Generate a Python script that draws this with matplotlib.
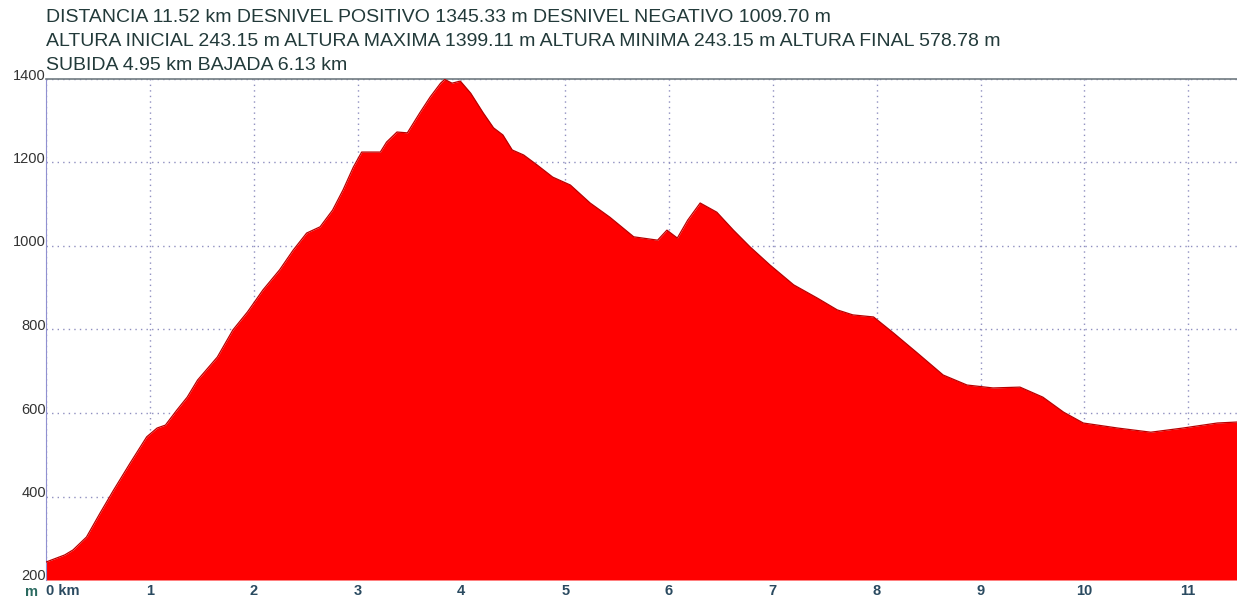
import numpy as np
import matplotlib
matplotlib.use('Agg')
import matplotlib.pyplot as plt
import matplotlib.transforms as mtransforms

plt.rcParams['font.family'] = ['Liberation Sans', 'DejaVu Sans']

# elevation profile
dist_km = [0.00, 0.18, 0.26, 0.39, 0.52, 0.65, 0.81, 0.97, 1.07, 1.15,
           1.26, 1.36, 1.46, 1.65, 1.80, 1.94, 2.09, 2.25, 2.38, 2.51,
           2.64, 2.76, 2.86, 2.96, 3.04, 3.22, 3.28, 3.38, 3.48, 3.60,
           3.70, 3.80, 3.84, 3.91, 3.99, 4.09, 4.21, 4.31, 4.40, 4.49,
           4.60, 4.73, 4.88, 5.05, 5.24, 5.43, 5.66, 5.89, 5.98, 6.08,
           6.18, 6.30, 6.46, 6.62, 6.78, 6.97, 7.20, 7.43, 7.62, 7.77,
           7.97, 8.16, 8.39, 8.64, 8.87, 9.12, 9.38, 9.60, 9.80, 9.99,
           10.32, 10.64, 10.95, 11.28, 11.52]
alt_m = [243, 260, 272, 303, 360, 415, 480, 543, 564, 571,
         607, 638, 679, 734, 799, 842, 895, 943, 990, 1031,
         1046, 1086, 1134, 1189, 1225, 1225, 1249, 1273, 1271, 1319,
         1357, 1390, 1399, 1390, 1395, 1366, 1319, 1283, 1266, 1230,
         1218, 1194, 1165, 1146, 1103, 1069, 1022, 1014, 1038, 1019,
         1062, 1103, 1081, 1038, 998, 955, 907, 875, 847, 835,
         830, 792, 744, 691, 667, 660, 662, 638, 602, 576,
         564, 554, 564, 576, 579]

x_ticks = list(range(0, 12))
x_labels = ['0 km'] + [str(i) for i in range(1, 12)]
y_ticks = [200, 400, 600, 800, 1000, 1200, 1400]

header = [
    'DISTANCIA 11.52 km DESNIVEL POSITIVO 1345.33 m DESNIVEL NEGATIVO 1009.70 m',
    'ALTURA INICIAL 243.15 m ALTURA MAXIMA 1399.11 m ALTURA MINIMA 243.15 m ALTURA FINAL 578.78 m',
    'SUBIDA 4.95 km BAJADA 6.13 km',
]

fig = plt.figure(figsize=(12.37, 5.98), dpi=100)
ax = fig.add_axes([46 / 1237, 1 - 580 / 598, 1 - 46 / 1237, (580 - 79) / 598])

ax.fill_between(dist_km, alt_m, 200, color='#ff0000', lw=0, zorder=2)
ax.plot(dist_km, alt_m, color='#b80000', lw=0.9, zorder=3)

ax.set_xlim(0, 11.47)
ax.set_ylim(200, 1400)
ax.set_xticks(x_ticks)
ax.set_xticklabels(x_labels, fontsize=10.5, fontweight='bold', color='#2a4a60')
ax.get_xticklabels()[0].set_horizontalalignment('left')
ax.set_yticks(y_ticks)
ax.set_yticklabels([str(v) for v in y_ticks], fontsize=10.5, color='#333333')
ax.tick_params(length=0)
ax.tick_params(axis='y', pad=0)
ax.tick_params(axis='x', pad=3)

# y labels sit a few pixels above their gridline
shift = mtransforms.ScaledTranslation(0, 5 / 100, fig.dpi_scale_trans)
for lab in ax.get_yticklabels():
    lab.set_transform(lab.get_transform() + shift)

ax.grid(True, linestyle=(0, (1, 3)), color='#8f8fc0', lw=1.0, zorder=1)
for s in ['right', 'bottom']:
    ax.spines[s].set_visible(False)
ax.spines['left'].set_color('#9090d0')
ax.spines['top'].set_color('#707a80')
ax.spines['top'].set_linewidth(1.2)

fig.text(31 / 1237, 1 - 592 / 598, 'm', fontsize=10.5, fontweight='bold',
         color='#2a6a60', ha='center', va='center')

for i, line in enumerate(header):
    fig.text(46 / 1237, 1 - (18 + 24 * i) / 598, line, fontsize=14,
             color='#223a3a', ha='left', va='center')

fig.savefig('out.png', dpi=100)
